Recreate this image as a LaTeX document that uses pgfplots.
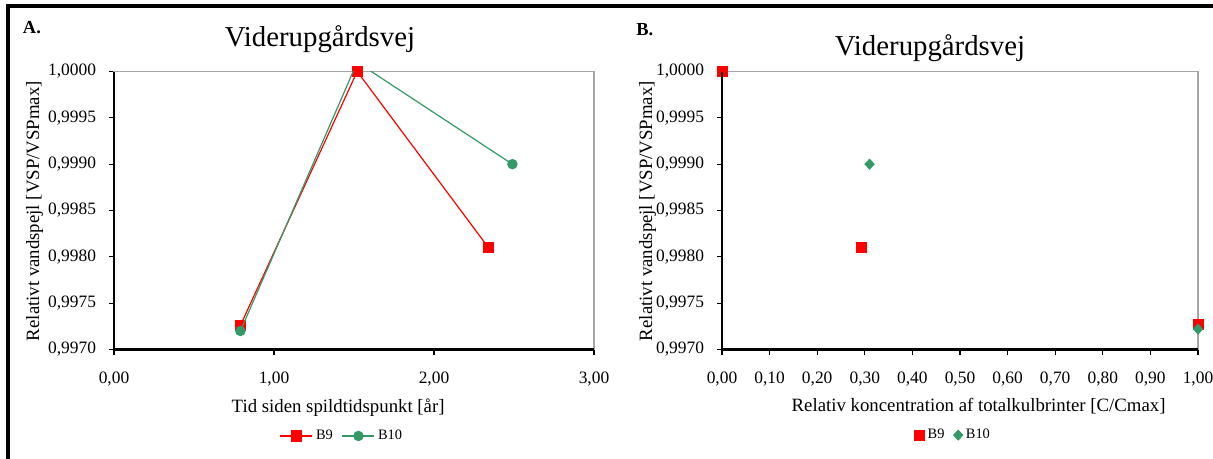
\documentclass[border=0pt]{standalone}
\usepackage{fontspec}
\setmainfont{Liberation Serif}
\usepackage{pgfplots}
\pgfplotsset{compat=1.18}
\definecolor{bred}{RGB}{255,0,0}
\definecolor{bgreen}{RGB}{51,153,102}
\pgfplotsset{
  common/.style={
    scale only axis,
    height=139bp,
    axis line style={black!35, line width=0.6bp},
    tick align=outside,
    xtick pos=left, ytick pos=left,
    major tick length=2.5bp,
    tick style={black, line width=0.6bp},
    ymin=0.997, ymax=1.0,
    ytick={0.997,0.9975,0.998,0.9985,0.999,0.9995,1.0},
    yticklabels={{0,9970},{0,9975},{0,9980},{0,9985},{0,9990},{0,9995},{1,0000}},
    tick label style={font=\fontsize{8.7bp}{10bp}\selectfont},
    xticklabel style={yshift=-5bp},
    yticklabel style={xshift=-3bp},
    label style={font=\fontsize{9.4bp}{11bp}\selectfont},
    legend style={draw=none, fill=none, font=\fontsize{7.2bp}{9bp}\selectfont,
      legend columns=-1, anchor=center, inner sep=0pt,
      nodes={inner xsep=1.5bp, inner ysep=1bp},
      /tikz/every even column/.append style={column sep=3bp}},
    after end axis/.append code={
      \draw[black, line width=1.1bp] (rel axis cs:0,1) -- (rel axis cs:0,0) -- (rel axis cs:1,0);
    },
  }
}
\begin{document}
\begin{tikzpicture}
\path[use as bounding box] (0,0) rectangle (606.5bp,-229.5bp);
\fill[black] (3bp,-2bp) rectangle (606.5bp,-4.15bp);
\fill[black] (3bp,-2bp) rectangle (5.15bp,-229.5bp);

% Panel A
\node[anchor=base west, inner sep=0pt, font=\bfseries\fontsize{9.2bp}{11bp}\selectfont] at (11.3bp,-16.6bp) {A.};
\node[anchor=base, inner sep=0pt, font=\fontsize{14.4bp}{16bp}\selectfont] at (160bp,-23bp) {Viderupgårdsvej};
\begin{axis}[common,
  at={(57bp,-174.75bp)}, anchor=south west,
  width=240bp,
  xmin=0, xmax=3,
  xtick={0,1,2,3},
  xticklabels={{0,00},{1,00},{2,00},{3,00}},
  clip mode=individual,
  xlabel={Tid siden spildtidspunkt [år]},
  ylabel={Relativt vandspejl [VSP/VSPmax]},
  xlabel style={at={(axis description cs:0.467,-0.225)}, anchor=base},
  ylabel style={at={(axis description cs:-0.156,0.498)}, anchor=base, rotate=0},
  legend style={at={(axis description cs:0.476,-0.311)}},
  legend image code/.code={
    \draw[#1] (0bp,0bp) -- (16bp,0bp);
    \draw[#1] plot coordinates {(8bp,0bp)};
  },
]
\addplot[bred, line width=0.6bp, mark=square*, mark size=2.5bp, mark options={solid}]
  coordinates {(0.79,0.99726) (1.52,1.0000) (2.34,0.99810)};
\addlegendentry{B9}
\addplot[bgreen, line width=0.6bp, no marks, forget plot]
  coordinates {(0.79,0.99720) (1.52,1.0001) (2.49,0.99900)};
\addplot[bgreen, line width=0.6bp, only marks, mark=*, mark size=2.3bp]
  coordinates {(0.79,0.99720) (2.49,0.99900)};
\addlegendentry{B10}
\end{axis}

% Panel B
\node[anchor=base west, inner sep=0pt, font=\bfseries\fontsize{9.2bp}{11bp}\selectfont] at (318bp,-17.5bp) {B.};
\node[anchor=base, inner sep=0pt, font=\fontsize{14.4bp}{16bp}\selectfont] at (465bp,-27.5bp) {Viderupgårdsvej};
\begin{axis}[common,
  at={(361bp,-174.75bp)}, anchor=south west,
  width=238bp,
  xmin=0, xmax=1,
  xtick={0,0.1,0.2,0.3,0.4,0.5,0.6,0.7,0.8,0.9,1.0},
  xticklabels={{0,00},{0,10},{0,20},{0,30},{0,40},{0,50},{0,60},{0,70},{0,80},{0,90},{1,00}},
  clip=false,
  xlabel={Relativ koncentration af totalkulbrinter [C/Cmax]},
  ylabel={Relativt vandspejl [VSP/VSPmax]},
  xlabel style={at={(axis description cs:0.539,-0.222)}, anchor=base},
  ylabel style={at={(axis description cs:-0.147,0.498)}, anchor=base, rotate=0},
  legend style={at={(axis description cs:0.487,-0.308)}},
  legend image code/.code={
    \draw[#1] plot coordinates {(2.5bp,0bp)};
  },
]
\addplot[only marks, bred, mark=square*, mark size=2.5bp]
  coordinates {(0.0,1.0000) (0.293,0.99810) (1.0,0.99727)};
\addlegendentry{B9}
\addplot[only marks, bgreen, mark=diamond*, mark size=2.5bp, mark options={xscale=1.25}]
  coordinates {(0.31,0.99900) (1.0,0.99722)};
\addlegendentry{B10}
\end{axis}
\end{tikzpicture}
\end{document}
